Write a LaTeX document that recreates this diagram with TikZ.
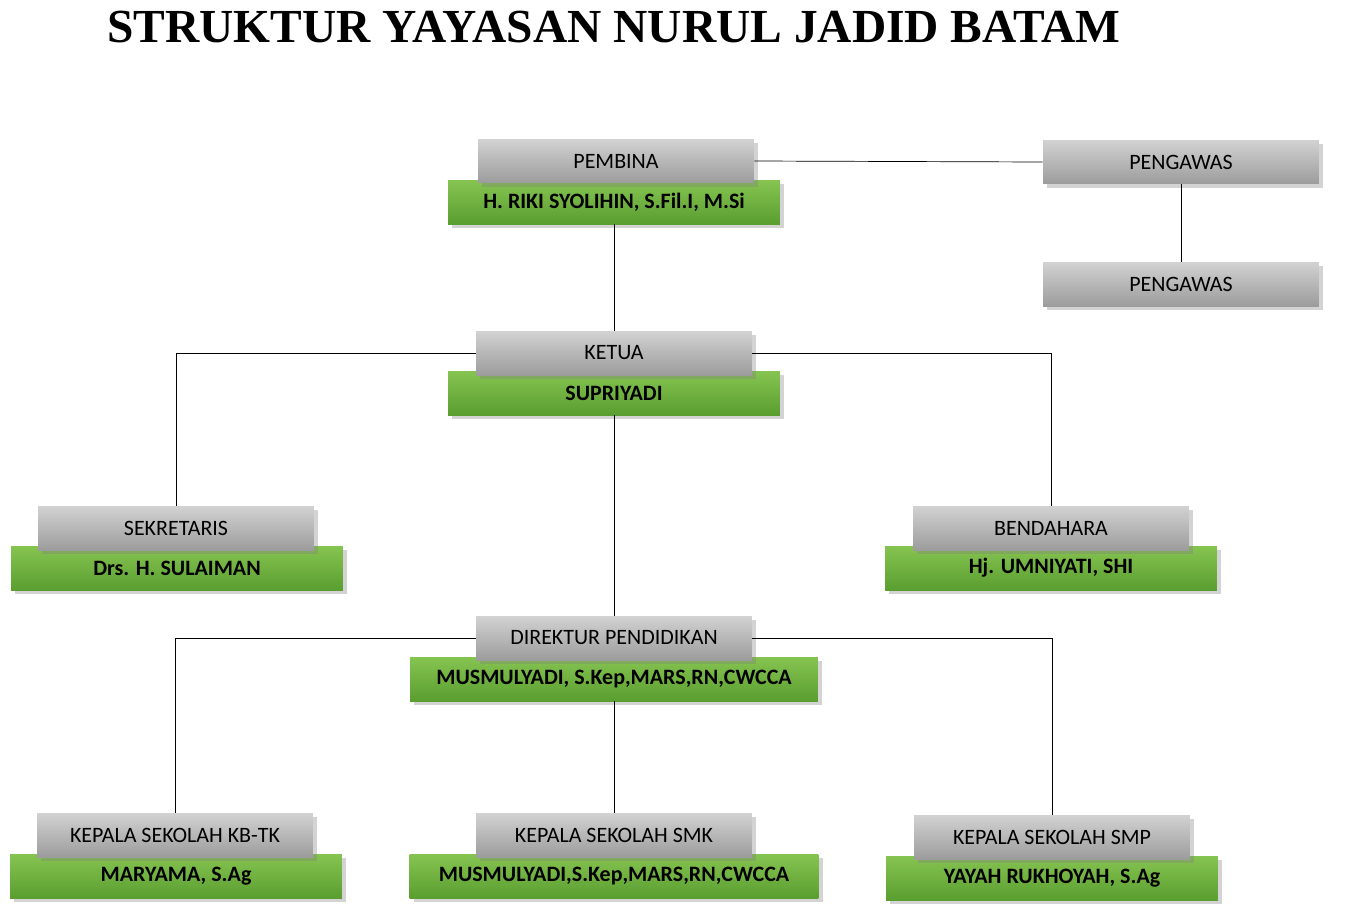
\documentclass[tikz,border=0pt]{standalone}
\usepackage{fontspec}
\setmainfont{Carlito}
\newfontfamily\titlefont{Liberation Serif}
\usetikzlibrary{shadows}

\definecolor{grayTop}{HTML}{D2D2D2}
\definecolor{grayBot}{HTML}{9C9C9C}
\definecolor{greenTop}{HTML}{86C451}
\definecolor{greenBot}{HTML}{5A9E30}

\tikzset{
  graybox/.style={rectangle, top color=grayTop, bottom color=grayBot, draw=none,
    minimum width=5.52cm, minimum height=0.88cm, inner sep=0pt,
    font=\fontsize{12.5}{14}\selectfont, drop shadow={opacity=0.35}},
  greenbox/.style={rectangle, top color=greenTop, bottom color=greenBot, draw=none,
    minimum width=6.64cm, minimum height=0.88cm, inner sep=0pt,
    font=\bfseries\fontsize{12.5}{14}\selectfont, drop shadow={opacity=0.35}},
  link/.style={thin, black}
}

\begin{document}
\begin{tikzpicture}[x=0.02cm, y=-0.02cm]
  \useasboundingbox (0,0) rectangle (1366,913);
  \node (title) at (614,27) {\titlefont\bfseries\fontsize{27}{30}\selectfont STRUKTUR YAYASAN NURUL JADID BATAM};

  % pembina and pengawas
  \node (pembinaName) [greenbox] at (614,202) {H. RIKI SYOLIHIN, S.Fil.I, M.Si};
  \node (pembina) [graybox] at (616,161) {PEMBINA};
  \node (pengawasA) [graybox] at (1181,162) {PENGAWAS};
  \node (pengawasB) [graybox] at (1181,284) {PENGAWAS};

  % ketua
  \node (ketuaName) [greenbox] at (614,393) {SUPRIYADI};
  \node (ketua) [graybox] at (614,353) {KETUA};

  % sekretaris and bendahara
  \node (sekretarisName) [greenbox] at (177,568) {Drs. H. SULAIMAN};
  \node (sekretaris) [graybox] at (176,528) {SEKRETARIS};
  \node (bendaharaName) [greenbox] at (1051,568) {Hj. UMNIYATI, SHI};
  \node (bendahara) [graybox] at (1051,528) {BENDAHARA};

  % direktur
  \node (direkturName) [greenbox, minimum width=8.16cm] at (614,679) {MUSMULYADI, S.Kep,MARS,RN,CWCCA};
  \node (direktur) [graybox] at (614,638) {DIREKTUR PENDIDIKAN};

  % kepala sekolah
  \node (kbtkName) [greenbox] at (176,876) {MARYAMA, S.Ag};
  \node (kbtk) [graybox] at (175,835) {KEPALA SEKOLAH KB-TK};
  \node (smkName) [greenbox, minimum width=8.18cm] at (614,876) {MUSMULYADI,S.Kep,MARS,RN,CWCCA};
  \node (smk) [graybox] at (614,835) {KEPALA SEKOLAH SMK};
  \node (smpName) [greenbox] at (1052,878) {YAYAH RUKHOYAH, S.Ag};
  \node (smp) [graybox] at (1052,837) {KEPALA SEKOLAH SMP};

  \draw [link] (pembina.east) -- (pengawasA.west);
  \draw [link] (pengawasA.south) -- (pengawasB.north);
  \draw [link] (pembinaName.south) -- (ketua.north);
  \draw [link] (ketua.west) -| (sekretaris.north);
  \draw [link] (ketua.east) -| (bendahara.north);
  \draw [link] (ketuaName.south) -- (direktur.north);
  \draw [link] (direktur.west) -| (kbtk.north);
  \draw [link] (direktur.east) -| (smp.north);
  \draw [link] (direkturName.south) -- (smk.north);
\end{tikzpicture}
\end{document}
